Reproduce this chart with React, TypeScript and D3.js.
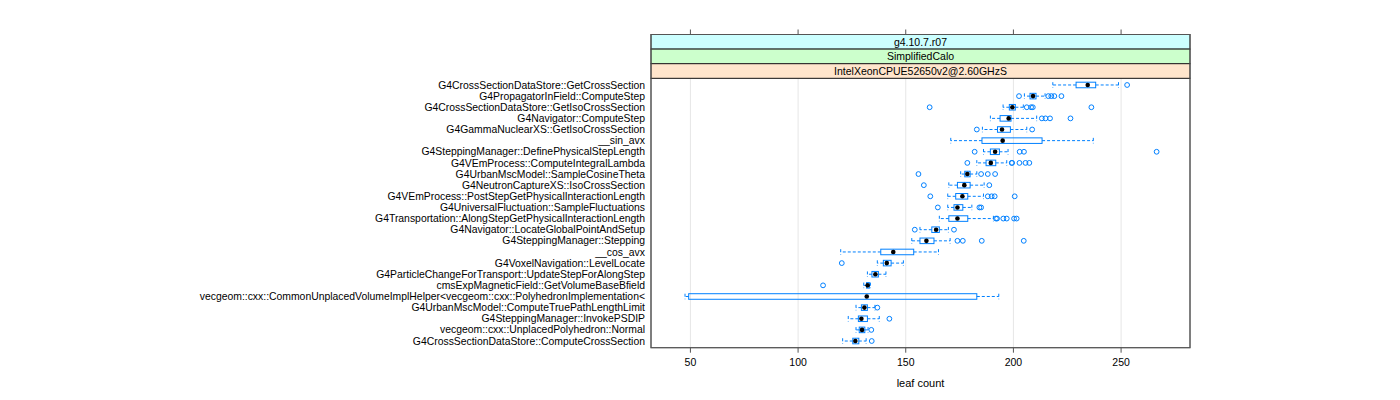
import React from "react";
import * as d3 from "d3";

const labels = [
  "G4CrossSectionDataStore::GetCrossSection",
  "G4PropagatorInField::ComputeStep",
  "G4CrossSectionDataStore::GetIsoCrossSection",
  "G4Navigator::ComputeStep",
  "G4GammaNuclearXS::GetIsoCrossSection",
  "__sin_avx",
  "G4SteppingManager::DefinePhysicalStepLength",
  "G4VEmProcess::ComputeIntegralLambda",
  "G4UrbanMscModel::SampleCosineTheta",
  "G4NeutronCaptureXS::IsoCrossSection",
  "G4VEmProcess::PostStepGetPhysicalInteractionLength",
  "G4UniversalFluctuation::SampleFluctuations",
  "G4Transportation::AlongStepGetPhysicalInteractionLength",
  "G4Navigator::LocateGlobalPointAndSetup",
  "G4SteppingManager::Stepping",
  "__cos_avx",
  "G4VoxelNavigation::LevelLocate",
  "G4ParticleChangeForTransport::UpdateStepForAlongStep",
  "cmsExpMagneticField::GetVolumeBaseBfield",
  "vecgeom::cxx::CommonUnplacedVolumeImplHelper<vecgeom::cxx::PolyhedronImplementation<",
  "G4UrbanMscModel::ComputeTruePathLengthLimit",
  "G4SteppingManager::InvokePSDIP",
  "vecgeom::cxx::UnplacedPolyhedron::Normal",
  "G4CrossSectionDataStore::ComputeCrossSection",
];

const whiskerLow = [218.3, 205.1, 195.2, 189.3, 185.6, 170.9, 186.1, 183.0, 175.5, 170.0, 169.5, 169.5, 165.6, 156.6, 152.8, 119.8, 136.8, 132.2, 130.5, 47.5, 126.9, 123.3, 126.9, 120.7];
const q1 = [229.1, 207.7, 198.1, 193.8, 192.6, 185.4, 189.3, 187.3, 177.4, 174.0, 173.2, 172.4, 170.0, 162.1, 156.6, 138.4, 139.6, 134.3, 131.8, 49.2, 129.4, 128.0, 128.4, 125.4];
const medians = [234.5, 209.1, 199.5, 197.8, 194.7, 195.0, 191.5, 189.5, 178.6, 177.2, 176.3, 174.0, 174.0, 164.1, 159.6, 144.2, 141.2, 135.9, 132.3, 131.9, 130.8, 129.4, 129.7, 126.6];
const q3 = [238.2, 210.5, 200.9, 198.9, 198.6, 213.3, 193.5, 191.8, 179.9, 179.9, 178.8, 176.5, 178.8, 165.6, 163.1, 153.7, 143.2, 137.3, 133.1, 183.0, 132.2, 132.2, 131.0, 128.2];
const whiskerHigh = [248.8, 214.7, 204.6, 210.8, 206.2, 237.1, 197.5, 196.9, 183.0, 186.4, 186.1, 180.7, 190.7, 169.8, 170.6, 165.2, 148.9, 140.8, 133.6, 193.2, 135.7, 137.7, 132.5, 131.6];
const outliers: number[][] = [
  [252.8],
  [202.6, 216.2, 217.6, 219.0, 222.3],
  [161.1, 206.2, 208.2, 209.0, 236.2],
  [213.2, 214.9, 217.0, 226.5],
  [183.0, 208.7],
  [],
  [182.0, 202.9, 204.9, 266.5],
  [178.6, 199.2, 199.4, 202.8, 205.6, 207.4],
  [155.9, 185.0, 188.1, 191.5],
  [158.4, 188.8],
  [161.4, 188.1, 189.9, 191.3, 200.6],
  [164.9, 184.2, 185.0],
  [191.9, 192.4, 195.3, 196.9, 200.3, 201.5],
  [154.2, 172.4],
  [174.0, 176.5, 185.3, 204.8],
  [],
  [120.3],
  [],
  [111.6],
  [],
  [136.8],
  [142.4],
  [134.0],
  [134.2],
];

const xTicks = [50, 100, 150, 200, 250];
const strips = ["g4.10.7.r07", "SimplifiedCalo", "IntelXeonCPUE52650v2@2.60GHzS"];
const stripColors = ["#ccffff", "#ccffcc", "#ffe5cc"];
const xLabel = "leaf count";

const FONT = "'Liberation Sans', Arial, Helvetica, sans-serif";
const BLUE = "#0080ff";

export default function App() {
  const left = 651, right = 1190;
  const panelTop = 78.3, panelBottom = 347.7;
  const stripTop = 34.5;
  const stripH = (panelTop - stripTop) / 3;
  const n = labels.length;

  const x = d3.scaleLinear().domain([31.7, 282]).range([left, right]);
  const y = d3.scaleLinear().domain([0.4, n + 0.6]).range([panelBottom, panelTop]);
  const band = Math.abs(y(1) - y(0));
  const boxH = band * 0.5;

  return (
    <svg width={1400} height={400} style={{ position: "absolute", left: 0, top: 0, background: "#fff" }}>
      {xTicks.map((t) => (
        <line key={"g" + t} x1={x(t)} x2={x(t)} y1={panelTop} y2={panelBottom} stroke="#e6e6e6" strokeWidth={1} />
      ))}
      {labels.map((lab, i) => {
        const cy = y(n - i);
        const h = boxH / 2;
        return (
          <g key={lab}>
            <line x1={x(q1[i])} x2={x(whiskerLow[i])} y1={cy} y2={cy} stroke={BLUE} strokeDasharray="3,2" />
            <line x1={x(q3[i])} x2={x(whiskerHigh[i])} y1={cy} y2={cy} stroke={BLUE} strokeDasharray="3,2" />
            <line x1={x(whiskerLow[i])} x2={x(whiskerLow[i])} y1={cy - h} y2={cy + h} stroke={BLUE} strokeDasharray="3,2" />
            <line x1={x(whiskerHigh[i])} x2={x(whiskerHigh[i])} y1={cy - h} y2={cy + h} stroke={BLUE} strokeDasharray="3,2" />
            <rect x={x(q1[i])} y={cy - h} width={Math.max(0.5, x(q3[i]) - x(q1[i]))} height={boxH} fill="none" stroke={BLUE} strokeWidth={1} />
            {outliers[i].map((o, j) => (
              <circle key={j} cx={x(o)} cy={cy} r={2.4} fill="none" stroke={BLUE} strokeWidth={1} />
            ))}
            <circle cx={x(medians[i])} cy={cy} r={2.3} fill="#000" />
            <text x={645} y={cy + 3.6} textAnchor="end" fontFamily={FONT} fontSize={10.4} fill="#000">{lab}</text>
          </g>
        );
      })}
      <rect x={left} y={panelTop} width={right - left} height={panelBottom - panelTop} fill="none" stroke="#555" strokeWidth={1} />
      {strips.map((s, k) => (
        <g key={s}>
          <rect x={left} y={stripTop + k * stripH} width={right - left} height={stripH} fill={stripColors[k]} stroke="#222" strokeWidth={1} />
          <text x={(left + right) / 2} y={stripTop + k * stripH + stripH / 2 + 3.8} textAnchor="middle" fontFamily={FONT} fontSize={10.5} fill="#000">{s}</text>
        </g>
      ))}
      <rect x={left} y={stripTop} width={right - left} height={panelBottom - stripTop} fill="none" stroke="#555" strokeWidth={1} />
      {xTicks.map((t) => (
        <g key={"t" + t}>
          <line x1={x(t)} x2={x(t)} y1={stripTop - 5} y2={stripTop} stroke="#555" />
          <line x1={x(t)} x2={x(t)} y1={panelBottom} y2={panelBottom + 5} stroke="#555" />
          <text x={x(t)} y={366} textAnchor="middle" fontFamily={FONT} fontSize={10.5} fill="#000">{t}</text>
        </g>
      ))}
      <text x={(left + right) / 2} y={387} textAnchor="middle" fontFamily={FONT} fontSize={11} fill="#000">{xLabel}</text>
    </svg>
  );
}
